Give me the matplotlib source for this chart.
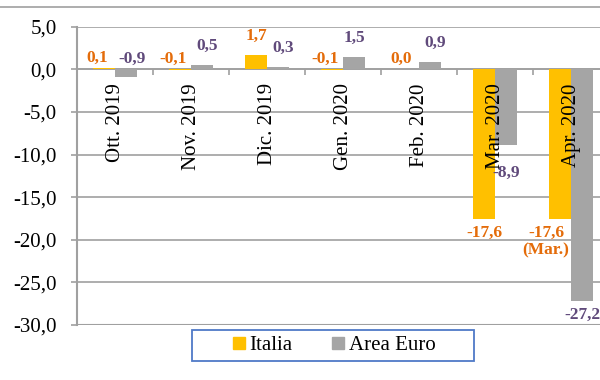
import matplotlib
matplotlib.use("Agg")
import matplotlib.pyplot as plt
from matplotlib.lines import Line2D
from matplotlib.patches import Rectangle
from matplotlib.ticker import FuncFormatter
import numpy as np

months = ["Ott. 2019", "Nov. 2019", "Dic. 2019", "Gen. 2020",
          "Feb. 2020", "Mar. 2020", "Apr. 2020"]
italia = [0.1, -0.1, 1.7, -0.1, 0.0, -17.6, -17.6]
area_euro = [-0.9, 0.5, 0.3, 1.5, 0.9, -8.9, -27.2]
# the April figure for Italy repeats March
italia_labels = ["0,1", "-0,1", "1,7", "-0,1", "0,0", "-17,6", "-17,6\n(Mar.)"]
euro_labels = ["-0,9", "0,5", "0,3", "1,5", "0,9", "-8,9", "-27,2"]

C_ITA = "#FFC000"
C_EUR = "#A5A5A5"
C_ITA_TXT = "#E46C0A"
C_EUR_TXT = "#604A7B"
GRID = "#A0A0A0"

plt.rcParams["font.family"] = ["Liberation Serif", "DejaVu Serif"]

fig = plt.figure(figsize=(6, 3.8), dpi=100)
ax = fig.add_axes([77 / 600, 1 - 325 / 380, 532 / 600, 298.3 / 380])

x = np.arange(len(months))
w = 0.29
ax.bar(x - w / 2, italia, w, color=C_ITA, zorder=3)
ax.bar(x + w / 2, area_euro, w, color=C_EUR, zorder=3)

ax.set_xlim(-0.5, len(months) - 0.5)
ax.set_ylim(-30, 5)
ax.set_yticks(np.arange(-30, 6, 5))
ax.yaxis.set_major_formatter(FuncFormatter(lambda v, _: f"{v:.1f}".replace(".", ",")))
ax.tick_params(axis="y", labelsize=15, length=4.5, width=1.2, color=GRID, pad=10)
ax.grid(axis="y", color=GRID, lw=1.2, zorder=0)

# category axis sits on zero, ticks between groups
ax.spines["bottom"].set_position(("data", 0))
ax.spines["bottom"].set_color(GRID)
ax.spines["bottom"].set_linewidth(1.2)
ax.spines["left"].set_color(GRID)
ax.spines["left"].set_linewidth(1.5)
ax.spines["top"].set_visible(False)
ax.spines["right"].set_visible(False)
ax.set_xticks(np.arange(-0.5, len(months), 1))
ax.set_xticklabels([])
ax.tick_params(axis="x", length=4, width=1.2, color=GRID, direction="out")
ax.axhline(-30, color=GRID, lw=1.5, zorder=1)

for i, m in enumerate(months):
    ax.annotate(m, (i, 0), xytext=(0, -10), textcoords="offset points",
                rotation=90, ha="center", va="top", fontsize=15, zorder=4)


def put_label(xpos, v, txt, color, dx=0, extra=0):
    if v >= 0.2:
        ax.annotate(txt, (xpos, v), xytext=(dx, 13.5), textcoords="offset points",
                    ha="center", va="center", fontsize=12.5, fontweight="bold",
                    color=color, zorder=5)
    elif v > -2:
        ax.annotate(txt, (xpos, max(v, 0)), xytext=(dx, 7.5), textcoords="offset points",
                    ha="center", va="center", fontsize=12.5, fontweight="bold",
                    color=color, zorder=5)
    else:
        ax.annotate(txt, (xpos, v), xytext=(dx, -4 - extra), textcoords="offset points",
                    ha="center", va="top", fontsize=12.5, fontweight="bold",
                    color=color, zorder=5, linespacing=1.1)


for i in range(len(months)):
    put_label(x[i] - w / 2, italia[i], italia_labels[i], C_ITA_TXT,
              dx=-10 if "\n" in italia_labels[i] else (-5 if abs(italia[i]) < 0.5 else 0))
    put_label(x[i] + w / 2, area_euro[i], euro_labels[i], C_EUR_TXT,
              dx=4 if abs(area_euro[i]) < 1 else 0,
              extra=10 if i == 5 else 0)

# legend with a plain blue frame
handles = [Line2D([], [], marker="s", ls="", color=C_ITA, markersize=9, label="Italia"),
           Line2D([], [], marker="s", ls="", color=C_EUR, markersize=9, label="Area Euro")]
fig.legend(handles=handles, loc="center", bbox_to_anchor=(0.555, 0.091), ncol=2,
           frameon=False, fontsize=15, handletextpad=0.1, columnspacing=1.8,
           handlelength=0.8)
fig.patches.append(Rectangle((192 / 600, 1 - 361 / 380), 282 / 600, 31 / 380,
                             transform=fig.transFigure, fill=False,
                             edgecolor="#4F7AC7", lw=1.3))

# rule under the page heading
fig.add_artist(Line2D([0, 1], [1 - 7 / 380] * 2, transform=fig.transFigure,
                      color="#A0A0A0", lw=1.2))

fig.savefig("out.png", dpi=100)
plt.close(fig)
